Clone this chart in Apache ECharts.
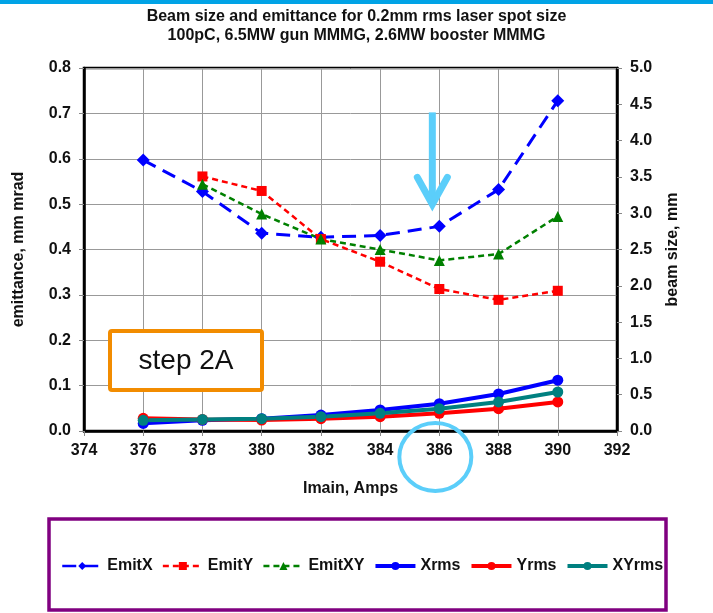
<!DOCTYPE html>
<html>
<head>
<meta charset="utf-8">
<script src="https://cdn.jsdelivr.net/npm/echarts@6/dist/echarts.min.js"></script>
<style>
html,body{margin:0;padding:0;background:#fff;}
#chart{width:713px;height:613px;}
</style>
</head>
<body>
<div id="chart"></div>
<script>
// ---- data ----
const currents = [376, 378, 380, 382, 384, 386, 388, 390];
const emitX  = [0.597, 0.528, 0.436, 0.427, 0.431, 0.451, 0.532, 0.728];
const emitY  = [null, 0.561, 0.529, 0.423, 0.373, 0.313, 0.289, 0.309];
const emitXY = [null, 0.544, 0.478, 0.423, 0.400, 0.376, 0.390, 0.473];
const xrms   = [0.105, 0.147, 0.170, 0.220, 0.290, 0.376, 0.510, 0.700];
const yrms   = [0.174, 0.160, 0.151, 0.170, 0.197, 0.243, 0.307, 0.400];
const xyrms  = [0.147, 0.160, 0.170, 0.197, 0.243, 0.307, 0.400, 0.537];
const seriesNames = ['EmitX', 'EmitY', 'EmitXY', 'Xrms', 'Yrms', 'XYrms'];
const titleLines = ['Beam size and emittance for 0.2mm rms laser spot size',
                    '100pC, 6.5MW gun MMMG, 2.6MW booster MMMG'];
const highlightCurrent = 386;
const stepLabel = 'step 2A';

const FONT = '"Liberation Sans", Arial, sans-serif';
const pairs = arr => currents.map((x, i) => [x, arr[i]]).filter(p => p[1] !== null);

const chart = echarts.init(document.getElementById('chart'), null, {renderer: 'canvas'});

function dashedSeries(name, data, color, symbol, size, dash, width) {
  return {
    name, type: 'line', yAxisIndex: 0, data: pairs(data),
    symbol, symbolSize: size,
    lineStyle: {color, width, type: dash},
    itemStyle: {color, borderWidth: 0},
    z: 3
  };
}
function solidSeries(name, data, color) {
  return {
    name, type: 'line', yAxisIndex: 1, data: pairs(data),
    symbol: 'circle', symbolSize: 11,
    lineStyle: {color, width: 4},
    itemStyle: {color, borderWidth: 0},
    z: 4
  };
}

const legendWidths = {EmitX: 2.5, EmitY: 2.5, EmitXY: 2.5, Xrms: 4, Yrms: 4, XYrms: 4};

const option = {
  backgroundColor: '#fff',
  animation: false,
  title: {
    text: titleLines.join('\n'),
    left: 'center', top: 2,
    textStyle: {fontFamily: FONT, fontSize: 16, fontWeight: 'bold', color: '#111', lineHeight: 19}
  },
  grid: {left: 84, right: 96, top: 68, bottom: 182, show: true, borderColor: '#000', borderWidth: 2.5, backgroundColor: 'transparent'},
  legend: {
    left: 61, top: 558, padding: 0,
    itemWidth: 40, itemHeight: 10, itemGap: 9,
    data: seriesNames.map(n => ({name: n, lineStyle: {width: legendWidths[n]}})),
    textStyle: {fontFamily: FONT, fontSize: 16, fontWeight: 'bold', color: '#111'}
  },
  xAxis: {
    type: 'value', min: 374, max: 392, interval: 2,
    name: 'Imain, Amps', nameLocation: 'middle', nameGap: 50,
    nameTextStyle: {fontFamily: FONT, fontSize: 16, fontWeight: 'bold', color: '#111'},
    axisLine: {show: true, lineStyle: {color: '#000', width: 2.5}},
    axisTick: {show: true, length: 5, lineStyle: {color: '#888'}},
    axisLabel: {fontFamily: FONT, fontSize: 16, fontWeight: 'bold', color: '#111', margin: 12},
    splitLine: {show: true, lineStyle: {color: '#999', width: 1}}
  },
  yAxis: [{
    type: 'value', min: 0, max: 0.8, interval: 0.1, position: 'left',
    name: 'emittance, mm mrad', nameLocation: 'middle', nameGap: 57,
    nameTextStyle: {fontFamily: FONT, fontSize: 16, fontWeight: 'bold', color: '#111'},
    axisLine: {show: true, lineStyle: {color: '#000', width: 2.5}},
    axisTick: {show: true, length: 5, lineStyle: {color: '#888'}},
    axisLabel: {fontFamily: FONT, fontSize: 16, fontWeight: 'bold', color: '#111', margin: 13,
                formatter: v => v.toFixed(1)},
    splitLine: {show: true, lineStyle: {color: '#999', width: 1}}
  }, {
    type: 'value', min: 0, max: 5, interval: 0.5, position: 'right',
    name: 'beam size, mm', nameLocation: 'middle', nameGap: 48,
    nameTextStyle: {fontFamily: FONT, fontSize: 16, fontWeight: 'bold', color: '#111'},
    axisLine: {show: true, lineStyle: {color: '#000', width: 2.5}},
    axisTick: {show: true, length: 5, lineStyle: {color: '#888'}},
    axisLabel: {fontFamily: FONT, fontSize: 16, fontWeight: 'bold', color: '#111', margin: 13,
                formatter: v => v.toFixed(1)},
    splitLine: {show: false}
  }],
  series: [
    dashedSeries('EmitX', emitX, '#0000ff', 'diamond', 13, [14, 8], 3),
    dashedSeries('EmitY', emitY, '#ff0000', 'rect', 10, [6, 4], 2.5),
    dashedSeries('EmitXY', emitXY, '#008000', 'triangle', 11, [6, 4], 2.5),
    solidSeries('Xrms', xrms, '#0000ff'),
    solidSeries('Yrms', yrms, '#ff0000'),
    solidSeries('XYrms', xyrms, '#008080')
  ]
};
chart.setOption(option);

// annotations anchored to the axes
const px = chart.convertToPixel({xAxisIndex: 0}, highlightCurrent);
const yTop = chart.convertToPixel({yAxisIndex: 0}, 0.7);
const yBottom = chart.convertToPixel({yAxisIndex: 0}, 0);
const arrowX = px - 7;
const arrowColor = '#5BCEFA';
chart.setOption({
  graphic: [
    {type: 'rect', shape: {x: 0, y: 0, width: 713, height: 4}, style: {fill: '#00A3E6'}, z: 1},
    {type: 'rect', shape: {x: 49, y: 519, width: 617, height: 91}, style: {fill: 'none', stroke: '#800080', lineWidth: 3.5}, z: 1},
    {type: 'rect', shape: {x: 110, y: 331, width: 152, height: 59, r: 2},
     style: {fill: '#fff', stroke: '#F28C00', lineWidth: 4}, z: 10},
    {type: 'text', x: 186, y: 361, style: {text: stepLabel, font: '28px ' + FONT, fill: '#111', textAlign: 'center', textVerticalAlign: 'middle'}, z: 11},
    {type: 'line', shape: {x1: arrowX, y1: yTop - 1, x2: arrowX, y2: yTop + 90}, style: {stroke: arrowColor, lineWidth: 7, lineCap: 'butt'}, z: 10},
    {type: 'polyline', shape: {points: [[arrowX - 15, yTop + 64], [arrowX, yTop + 91], [arrowX + 15, yTop + 64]]},
     style: {stroke: arrowColor, lineWidth: 7, lineCap: 'round', lineJoin: 'miter', fill: 'none'}, z: 10},
    {type: 'ellipse', shape: {cx: px - 4, cy: yBottom + 26, rx: 36, ry: 34},
     style: {stroke: arrowColor, lineWidth: 4, fill: 'none'}, z: 10}
  ]
});
</script>
</body>
</html>
